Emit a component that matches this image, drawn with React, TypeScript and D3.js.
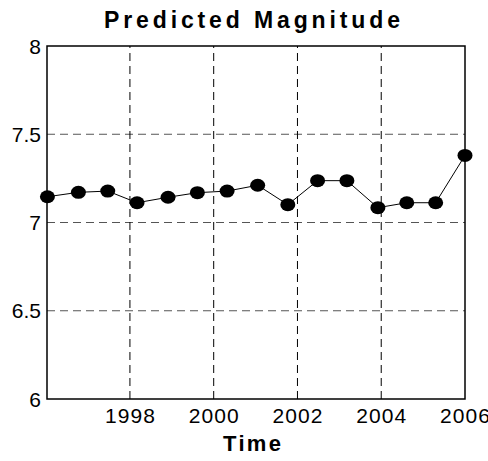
import React from "react";
import * as d3 from "d3";

const years = [1996.03, 1996.77, 1997.47, 1998.17, 1998.91, 1999.61, 2000.32, 2001.05, 2001.77, 2002.48, 2003.18, 2003.92, 2004.61, 2005.3, 2006.0];
const magnitudes = [7.146, 7.171, 7.178, 7.112, 7.143, 7.169, 7.178, 7.211, 7.101, 7.237, 7.237, 7.084, 7.112, 7.112, 7.38];
const xTicks = [1998, 2000, 2002, 2004, 2006];
const yTicks = [6, 6.5, 7, 7.5, 8];
const yTickLabels = ["6", "6.5", "7", "7.5", "8"];
const title = "Predicted Magnitude";
const xLabel = "Time";

export default function App() {
  const W = 488, H = 461;
  const left = 47, right = 465, top = 46, bottom = 399;
  const x = d3.scaleLinear().domain([1996.02, 2006]).range([left, right]);
  const y = d3.scaleLinear().domain([6, 8]).range([bottom, top]);
  const line = d3.line<number>().x((_, i) => x(years[i])).y((d) => y(d));
  const font = "'Liberation Sans', Arial, Helvetica, sans-serif";
  return (
    <svg width={W} height={H} style={{ position: "absolute", left: 0, top: 0, background: "#fff" }} fontFamily={font}>
      <rect x={0} y={0} width={W} height={H} fill="#fff" />
      {yTicks.slice(1, -1).map((t) => (
        <line key={"hy" + t} x1={left} x2={right} y1={y(t)} y2={y(t)} stroke="#555" strokeWidth={1} strokeDasharray="8,5" />
      ))}
      {xTicks.slice(0, -1).map((t) => (
        <line key={"vx" + t} x1={x(t)} x2={x(t)} y1={bottom} y2={top} stroke="#000" strokeWidth={1} strokeDasharray="8,5" />
      ))}
      <rect x={left} y={top} width={right - left} height={bottom - top} fill="none" stroke="#000" strokeWidth={1.5} />
      <path d={line(magnitudes) || ""} fill="none" stroke="#000" strokeWidth={1} />
      {magnitudes.map((m, i) => (
        <ellipse key={i} cx={x(years[i])} cy={y(m)} rx={7.5} ry={6.5} fill="#000" />
      ))}
      {yTicks.map((t, i) => (
        <text key={"yl" + t} x={left - 6} y={y(t) + 7.5} textAnchor="end" fontSize={21} fill="#000">{yTickLabels[i]}</text>
      ))}
      {xTicks.map((t) => (
        <text key={"xl" + t} x={x(t)} y={423} textAnchor="middle" fontSize={21} textLength={50} lengthAdjust="spacing" fill="#000">{String(t)}</text>
      ))}
      <text x={252} y={28} textAnchor="middle" fontSize={23} fontWeight="bold" textLength={296} lengthAdjust="spacing" fill="#000">{title}</text>
      <text x={252} y={451} textAnchor="middle" fontSize={22} fontWeight="bold" textLength={58} lengthAdjust="spacing" fill="#000">{xLabel}</text>
    </svg>
  );
}
